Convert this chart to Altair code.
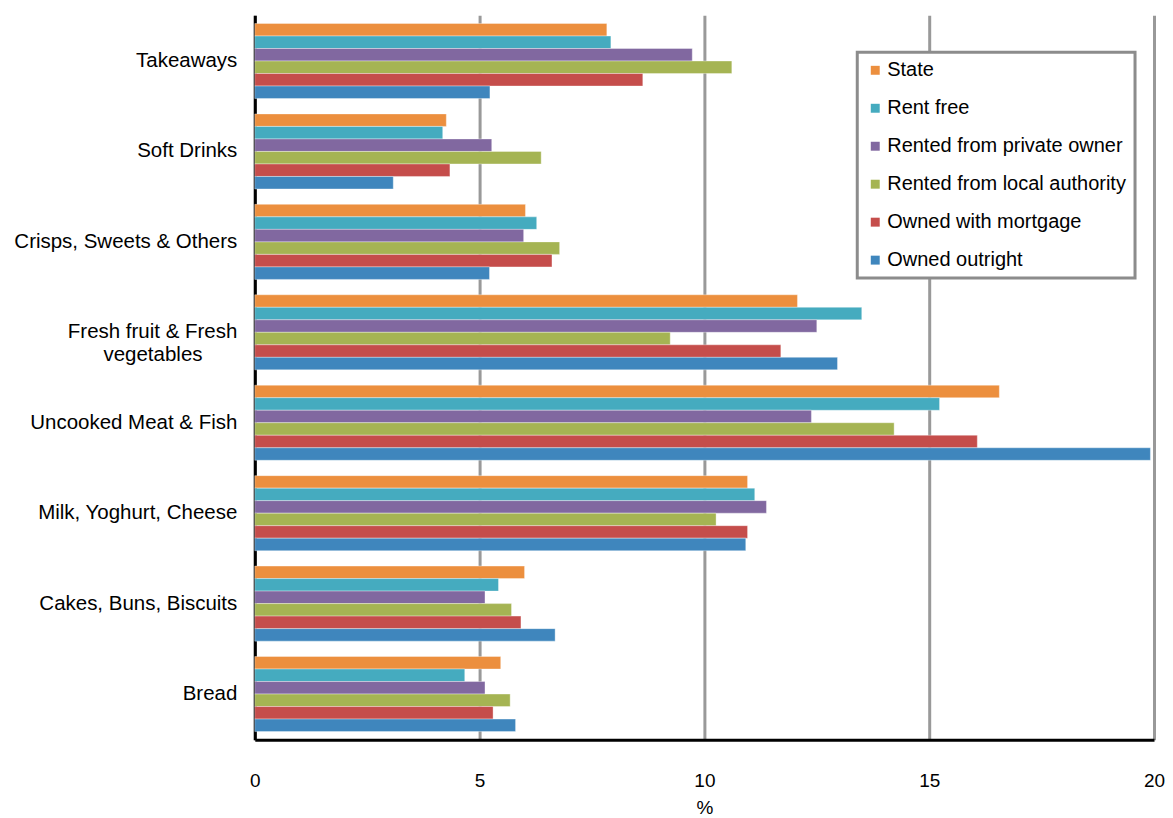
import altair as alt
import pandas as pd

PAD = "\u2003\u2002\u2009\u200b"
categories = ["Takeaways", "Soft Drinks", "Crisps, Sweets & Others",
              "Fresh fruit & Fresh|vegetables" + PAD, "Uncooked Meat & Fish",
              "Milk, Yoghurt, Cheese", "Cakes, Buns, Biscuits", "Bread"]
series = ["State", "Rent free", "Rented from private owner",
          "Rented from local authority", "Owned with mortgage", "Owned outright"]
colors = ["#EC8F3E", "#45ABBF", "#8168A0", "#A5B453", "#C54D4B", "#3F86BD"]

state = [7.83, 4.26, 6.02, 12.07, 16.56, 10.96, 6.00, 5.47]
rent_free = [7.92, 4.18, 6.27, 13.50, 15.23, 11.12, 5.42, 4.67]
private_owner = [9.73, 5.27, 5.98, 12.50, 12.38, 11.38, 5.12, 5.12]
local_authority = [10.61, 6.37, 6.78, 9.24, 14.22, 10.26, 5.71, 5.68]
mortgage = [8.63, 4.34, 6.61, 11.70, 16.07, 10.96, 5.92, 5.30]
outright = [5.23, 3.08, 5.22, 12.96, 19.92, 10.92, 6.68, 5.80]

values = [state, rent_free, private_owner, local_authority, mortgage, outright]
rows = []
for s, vals in zip(series, values):
    for c, v in zip(categories, vals):
        rows.append({"Category": c, "Series": s, "Value": v})
df = pd.DataFrame(rows)

FONT = "Liberation Sans"

chart = alt.Chart(df).mark_bar(stroke="white", strokeWidth=0.6, strokeOpacity=0.6).encode(
    y=alt.Y("Category:N", sort=categories, title=None,
            scale=alt.Scale(paddingInner=0.17, paddingOuter=0.09),
            axis=alt.Axis(labelExpr="split(datum.label, '|')", labelFontSize=20.5,
                          labelFont=FONT, labelColor="black", labelPadding=18,
                          labelLineHeight=23,
                          ticks=False, domain=True, domainColor="black",
                          domainWidth=3, grid=False, labelLimit=400)),
    yOffset=alt.YOffset("Series:N", sort=series),
    x=alt.X("Value:Q", title="%",
            scale=alt.Scale(domain=[0, 20], nice=False),
            axis=alt.Axis(values=[0, 5, 10, 15, 20], labelFontSize=19, labelFont=FONT,
                          labelColor="black", labelPadding=32, ticks=False,
                          labelFlush=False,
                          domainColor="black", domainWidth=3, grid=True,
                          gridColor="#999999", gridWidth=3,
                          titleFontSize=19, titleFont=FONT, titleFontWeight="normal",
                          titleColor="black", titlePadding=8)),
    color=alt.Color("Series:N", sort=series,
                    scale=alt.Scale(domain=series, range=colors),
                    legend=alt.Legend(title=None, orient="none", legendX=603, legendY=37,
                                      fillColor="white", strokeColor="#8c8c8c",
                                      padding=8, symbolType="square",
                                      symbolSize=80, symbolStrokeWidth=0,
                                      labelFontSize=20, labelFont=FONT, labelColor="black",
                                      rowPadding=18, labelOffset=2, labelLimit=400)),
).properties(
    width=900, height=725,
    padding={"left": 5, "top": 7, "right": 0, "bottom": 0},
).configure_view(stroke=None).configure_legend(strokeWidth=3)

chart.save("out.html", embed_options={"renderer": "svg", "actions": False})
